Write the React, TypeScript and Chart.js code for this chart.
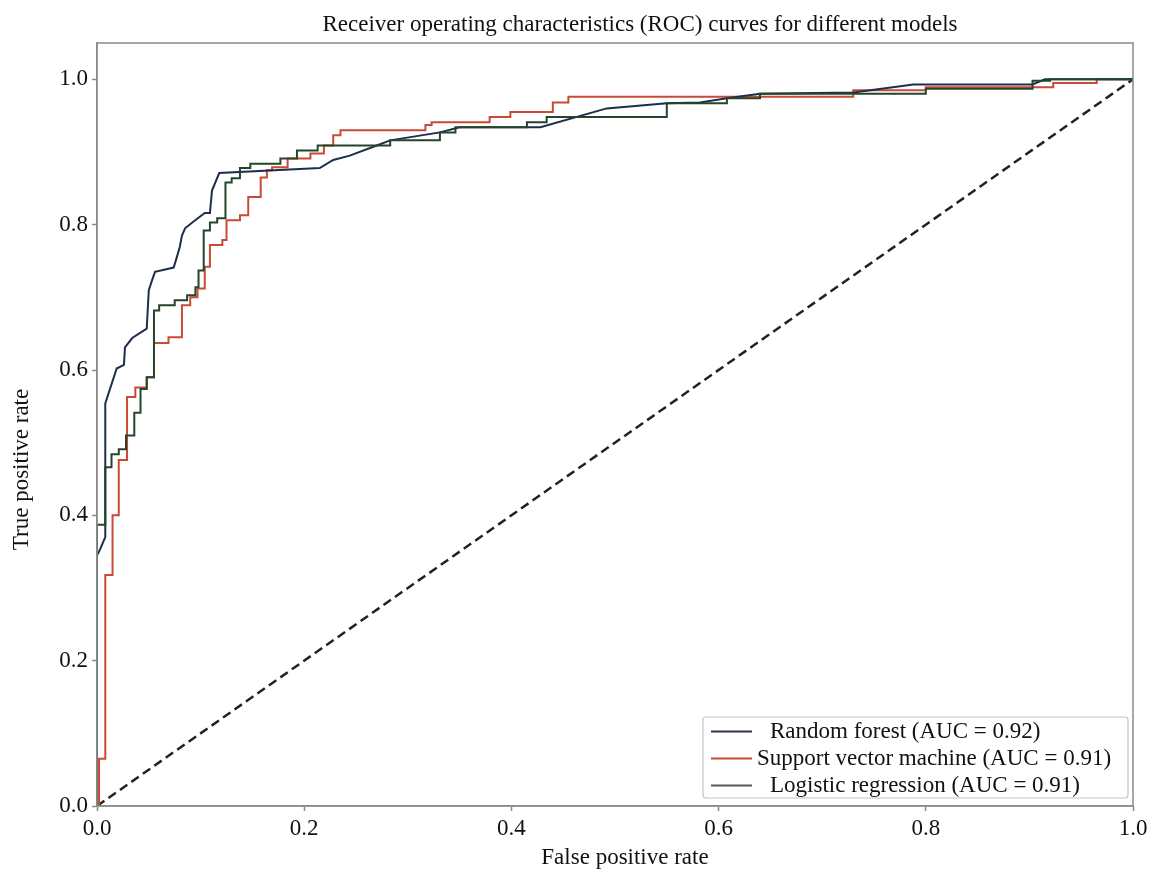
import React, { useEffect, useRef } from 'react';
import { Chart, registerables } from 'chart.js';

Chart.register(...registerables);

const chartTitle = 'Receiver operating characteristics (ROC) curves for different models';
const xAxisTitle = 'False positive rate';
const yAxisTitle = 'True positive rate';
const xTicks = [0, 0.2, 0.4, 0.6, 0.8, 1.0];
const yTicks = [0, 0.2, 0.4, 0.6, 0.8, 1.0];
const modelNames = [
  'Random forest (AUC = 0.92)',
  'Support vector machine (AUC = 0.91)',
  'Logistic regression (AUC = 0.91)',
];

// Random forest
const rfFpr = [0, 0, 0.002, 0.005, 0.008, 0.008, 0.019, 0.026, 0.027, 0.034, 0.048, 0.050, 0.053, 0.056, 0.074, 0.077, 0.080, 0.082, 0.085, 0.092, 0.104, 0.109, 0.111, 0.118, 0.215, 0.228, 0.244, 0.270, 0.283, 0.331, 0.350, 0.428, 0.492, 0.550, 0.582, 0.608, 0.640, 0.730, 0.788, 0.903, 0.915, 1.0];
const rfTpr = [0, 0.345, 0.350, 0.360, 0.370, 0.554, 0.602, 0.607, 0.631, 0.644, 0.657, 0.710, 0.723, 0.735, 0.741, 0.755, 0.770, 0.785, 0.795, 0.803, 0.816, 0.816, 0.847, 0.871, 0.878, 0.889, 0.895, 0.909, 0.916, 0.927, 0.934, 0.934, 0.960, 0.967, 0.968, 0.974, 0.980, 0.982, 0.993, 0.993, 1.0, 1.0];

// Support vector machine
const svmFpr = [0, 0.002, 0.002, 0.008, 0.008, 0.015, 0.015, 0.021, 0.021, 0.029, 0.029, 0.037, 0.037, 0.048, 0.048, 0.055, 0.055, 0.069, 0.069, 0.082, 0.082, 0.090, 0.090, 0.097, 0.097, 0.104, 0.104, 0.109, 0.109, 0.121, 0.121, 0.125, 0.125, 0.138, 0.138, 0.146, 0.146, 0.158, 0.158, 0.164, 0.164, 0.169, 0.169, 0.184, 0.184, 0.206, 0.206, 0.219, 0.219, 0.228, 0.228, 0.235, 0.235, 0.317, 0.317, 0.323, 0.323, 0.379, 0.379, 0.399, 0.399, 0.440, 0.440, 0.455, 0.455, 0.730, 0.730, 0.800, 0.800, 0.923, 0.923, 0.965, 0.965, 1.0];
const svmTpr = [0, 0, 0.065, 0.065, 0.318, 0.318, 0.400, 0.400, 0.476, 0.476, 0.563, 0.563, 0.576, 0.576, 0.590, 0.590, 0.637, 0.637, 0.645, 0.645, 0.689, 0.689, 0.700, 0.700, 0.712, 0.712, 0.742, 0.742, 0.772, 0.772, 0.779, 0.779, 0.806, 0.806, 0.813, 0.813, 0.838, 0.838, 0.865, 0.865, 0.875, 0.875, 0.879, 0.879, 0.891, 0.891, 0.898, 0.898, 0.909, 0.909, 0.923, 0.923, 0.930, 0.930, 0.937, 0.937, 0.941, 0.941, 0.948, 0.948, 0.955, 0.955, 0.968, 0.968, 0.976, 0.976, 0.985, 0.985, 0.989, 0.989, 0.995, 0.995, 1.0, 1.0];

// Logistic regression
const lrFpr = [0, 0, 0.008, 0.008, 0.014, 0.014, 0.021, 0.021, 0.028, 0.028, 0.036, 0.036, 0.042, 0.042, 0.048, 0.048, 0.055, 0.055, 0.060, 0.060, 0.075, 0.075, 0.087, 0.087, 0.095, 0.095, 0.098, 0.098, 0.103, 0.103, 0.109, 0.109, 0.116, 0.116, 0.124, 0.124, 0.130, 0.130, 0.138, 0.138, 0.148, 0.148, 0.177, 0.177, 0.193, 0.193, 0.213, 0.213, 0.283, 0.283, 0.331, 0.331, 0.346, 0.346, 0.415, 0.415, 0.434, 0.434, 0.550, 0.550, 0.608, 0.608, 0.640, 0.640, 0.800, 0.800, 0.903, 0.903, 0.920, 0.920, 1.0];
const lrTpr = [0, 0.387, 0.387, 0.466, 0.466, 0.484, 0.484, 0.491, 0.491, 0.510, 0.510, 0.541, 0.541, 0.574, 0.574, 0.590, 0.590, 0.682, 0.682, 0.689, 0.689, 0.696, 0.696, 0.703, 0.703, 0.714, 0.714, 0.737, 0.737, 0.792, 0.792, 0.803, 0.803, 0.809, 0.809, 0.858, 0.858, 0.864, 0.864, 0.878, 0.878, 0.884, 0.884, 0.891, 0.891, 0.902, 0.902, 0.909, 0.909, 0.916, 0.916, 0.927, 0.927, 0.934, 0.934, 0.941, 0.941, 0.948, 0.948, 0.967, 0.967, 0.974, 0.974, 0.980, 0.980, 0.987, 0.987, 0.998, 0.998, 1.0, 1.0];

// Chance line
const chanceFpr = [0, 1];
const chanceTpr = [0, 1];

const lineColors = ['#1e2d4d', '#c94a36', '#24452a'];
const legendColors = ['#2b3550', '#c94a36', '#555a55'];
const FONT = "'Liberation Serif', 'Times New Roman', serif";
const FONT_SIZE = 23;
const TEXT = '#111111';
const AXIS = '#8a8a8a';

const toPoints = (xs: number[], ys: number[]) => xs.map((x, i) => ({ x, y: ys[i] }));

const framePlugin = {
  id: 'frame',
  afterDatasetsDraw(chart: any) {
    const { ctx, chartArea: a } = chart;
    ctx.save();
    ctx.strokeStyle = AXIS;
    ctx.lineWidth = 1.5;
    ctx.strokeRect(a.left, a.top, a.right - a.left, a.bottom - a.top);
    ctx.restore();
  },
};

const textPlugin = {
  id: 'customTexts',
  afterDraw(chart: any) {
    const { ctx, chartArea: a } = chart;
    const cx = (a.left + a.right) / 2;
    ctx.save();
    ctx.font = `${FONT_SIZE}px ${FONT}`;
    ctx.fillStyle = TEXT;
    ctx.textAlign = 'center';
    ctx.textBaseline = 'middle';
    ctx.fillText(chartTitle, cx + 25, 25);
    ctx.fillText(xAxisTitle, cx + 10, 858);
    ctx.translate(22, (a.top + a.bottom) / 2 + 45);
    ctx.rotate(-Math.PI / 2);
    ctx.fillText(yAxisTitle, 0, 0);
    ctx.restore();
  },
};

const legendPlugin = {
  id: 'customLegend',
  afterDraw(chart: any) {
    const { ctx, chartArea: a } = chart;
    const right = a.right - 5;
    const bottom = a.bottom - 8;
    const width = 425;
    const rowH = 27;
    const height = rowH * 3;
    const left = right - width;
    const top = bottom - height;
    ctx.save();
    ctx.fillStyle = 'rgba(255,255,255,0.9)';
    ctx.strokeStyle = '#c4c4c4';
    ctx.lineWidth = 1.2;
    ctx.beginPath();
    (ctx as any).roundRect ? ctx.roundRect(left, top, width, height, 3) : ctx.rect(left, top, width, height);
    ctx.fill();
    ctx.stroke();
    ctx.font = `${FONT_SIZE}px ${FONT}`;
    ctx.fillStyle = TEXT;
    ctx.textBaseline = 'middle';
    ctx.textAlign = 'left';
    const indents = [67, 54, 67];
    modelNames.forEach((name, i) => {
      const cy = top + rowH / 2 + i * rowH + 1;
      ctx.strokeStyle = legendColors[i];
      ctx.lineWidth = 2;
      ctx.beginPath();
      ctx.moveTo(left + 8, cy);
      ctx.lineTo(left + 49, cy);
      ctx.stroke();
      ctx.fillText(name, left + indents[i], cy);
    });
    ctx.restore();
  },
};

export default function App() {
  const ref = useRef<HTMLCanvasElement | null>(null);

  useEffect(() => {
    if (!ref.current) return;
    const tickFont = { family: FONT, size: FONT_SIZE };
    const chart = new Chart(ref.current, {
      type: 'line',
      data: {
        datasets: [
          {
            label: modelNames[2],
            data: toPoints(lrFpr, lrTpr),
            borderColor: lineColors[2],
            borderWidth: 2,
            pointRadius: 0,
            fill: false,
            tension: 0,
            order: 1,
          },
          {
            label: modelNames[0],
            data: toPoints(rfFpr, rfTpr),
            borderColor: lineColors[0],
            borderWidth: 2,
            pointRadius: 0,
            fill: false,
            tension: 0,
            order: 2,
          },
          {
            label: modelNames[1],
            data: toPoints(svmFpr, svmTpr),
            borderColor: lineColors[1],
            borderWidth: 2,
            pointRadius: 0,
            fill: false,
            tension: 0,
            order: 3,
          },
          {
            label: 'chance',
            data: toPoints(chanceFpr, chanceTpr),
            borderColor: '#222222',
            borderWidth: 2.5,
            borderDash: [9, 5],
            pointRadius: 0,
            fill: false,
            order: 4,
          },
        ],
      },
      options: {
        animation: false,
        responsive: false,
        layout: { padding: { top: 43, right: 24, left: 0, bottom: 0 } },
        plugins: {
          legend: { display: false },
          title: { display: false },
          tooltip: { enabled: false },
        },
        scales: {
          x: {
            type: 'linear',
            min: 0,
            max: 1,
            afterBuildTicks: (s: any) => {
              s.ticks = xTicks.map((v) => ({ value: v }));
            },
            afterFit: (s: any) => {
              s.height = 65;
            },
            ticks: {
              callback: (v: any) => Number(v).toFixed(1),
              font: tickFont,
              color: TEXT,
              padding: 4,
              maxRotation: 0,
              autoSkip: false,
            },
            grid: { drawOnChartArea: false, drawTicks: true, tickLength: 5, color: AXIS, tickWidth: 1.5 },
            border: { display: true, color: AXIS, width: 1.5 },
            title: { display: false },
          },
          y: {
            type: 'linear',
            min: 0,
            max: 1.05,
            afterBuildTicks: (s: any) => {
              s.ticks = yTicks.map((v) => ({ value: v }));
            },
            afterFit: (s: any) => {
              s.width = 97;
            },
            ticks: {
              callback: (v: any) => Number(v).toFixed(1),
              font: tickFont,
              color: TEXT,
              padding: 4,
              autoSkip: false,
            },
            grid: { drawOnChartArea: false, drawTicks: true, tickLength: 5, color: AXIS, tickWidth: 1.5 },
            border: { display: true, color: AXIS, width: 1.5 },
            title: { display: false },
          },
        },
      },
      plugins: [framePlugin, textPlugin, legendPlugin],
    } as any);
    return () => chart.destroy();
  }, []);

  return (
    <div style={{ position: 'absolute', left: 0, top: 0, width: 1157, height: 871, background: '#ffffff' }}>
      <canvas ref={ref} width={1157} height={871} style={{ display: 'block' }} />
    </div>
  );
}
